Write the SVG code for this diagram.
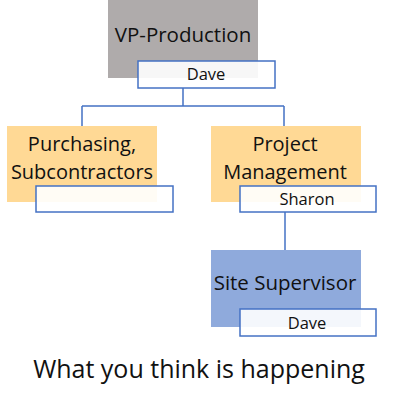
<svg xmlns="http://www.w3.org/2000/svg" width="400" height="403" viewBox="0 0 400 403">
<style>
.t{font-family:"Open Sans","Liberation Sans",sans-serif;fill:#111111;text-anchor:middle}
.big{font-size:20.5px}
.two{font-size:20px}
.sm{font-size:16.5px}
.name{fill:#ffffff;fill-opacity:0.9;stroke:#4472c4;stroke-width:1.5}
.con{stroke:#4472c4;stroke-width:1.5;fill:none}
</style>
<rect width="400" height="403" fill="#ffffff"/>
<g id="connectors">
<path class="con" d="M183 88V106M82 106H284M82 106V126M284 106V126"/>
<path class="con" d="M285 212V250"/>
</g>
<g id="vp">
<rect x="108" y="0" width="150" height="78" fill="#afabab"/>
<text class="t big" x="183" y="42">VP-Production</text>
<rect class="name" x="138" y="61" width="137" height="27"/>
<text class="t sm" x="206" y="80">Dave</text>
</g>
<g id="purchasing">
<rect x="7" y="126" width="150" height="76" fill="#ffd995"/>
<text class="t two" x="82" y="151">Purchasing,</text>
<text class="t two" x="82" y="179">Subcontractors</text>
<rect class="name" x="36" y="186" width="137" height="26"/>
</g>
<g id="project">
<rect x="211" y="126" width="150" height="76" fill="#ffd995"/>
<text class="t two" x="285" y="151">Project</text>
<text class="t two" x="285" y="179">Management</text>
<rect class="name" x="240" y="186" width="136" height="26"/>
<text class="t sm" x="307" y="205">Sharon</text>
</g>
<g id="site">
<rect x="211" y="250" width="150" height="77" fill="#8faadc"/>
<text class="t big" x="285" y="290">Site Supervisor</text>
<rect class="name" x="240" y="309" width="136" height="27"/>
<text class="t sm" x="307" y="329">Dave</text>
</g>
<text class="t" x="199" y="378" style="font-size:25px">What you think is happening</text>
</svg>
